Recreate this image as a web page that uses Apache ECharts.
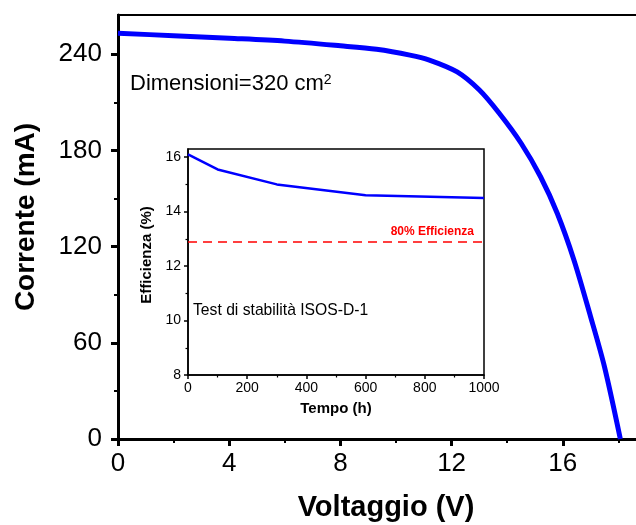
<!DOCTYPE html>
<html>
<head>
<meta charset="utf-8">
<script src="https://cdn.jsdelivr.net/npm/echarts@6/dist/echarts.min.js"></script>
<style>
  html, body { margin: 0; padding: 0; background: #fff; }
  #root { width: 636px; height: 525px; }
</style>
</head>
<body>
<div id="root"></div>
<script>
// main J-V curve
const voltage = [0, 2, 4, 6, 8, 9.3, 10.5, 11.2, 12.2, 13.0, 13.7, 14.5, 15.2, 15.8, 16.4, 17.0, 17.5, 18.07];
const current = [253.1, 251.6, 250.0, 248.2, 245.3, 243.1, 239.5, 236.4, 229.0, 217.7, 203.5, 184.5, 163.6, 140.8, 111.7, 76.3, 45.0, 0];
const currentTicks = [0, 60, 120, 180, 240];
const currentMinor = [30, 90, 150, 210];

// inset: stability test
const tempo = [0, 100, 300, 600, 1000];
const efficienza = [16.1, 15.55, 15.0, 14.6, 14.5];
const effTicks = [8, 10, 12, 14, 16];
const effMinor = [9, 11, 13, 15];
const soglia80 = 12.88;

const FONT = "'Liberation Sans', Arial, sans-serif";
const plain = v => String(v);
const chart = echarts.init(document.getElementById('root'));

chart.setOption({
  animation: false,
  backgroundColor: '#fff',
  textStyle: { fontFamily: FONT },
  grid: [
    { left: 118, top: 15, width: 556, height: 424, show: true, borderColor: '#000', borderWidth: 2, outerBoundsMode: 'none', containLabel: false },
    { left: 188, top: 149, width: 296, height: 226, show: true, borderColor: '#000', borderWidth: 1.5, backgroundColor: '#fff', outerBoundsMode: 'none', containLabel: false }
  ],
  xAxis: [
    {
      gridIndex: 0, type: 'value', min: 0, max: 20, interval: 4,
      name: 'Voltaggio (V)', nameLocation: 'middle', nameGap: 54,
      nameTextStyle: { fontSize: 29, fontWeight: 'bold', color: '#000', fontFamily: FONT, padding: [0, 20, 0, 0] },
      axisLine: { lineStyle: { color: '#000', width: 3 } },
      axisTick: { inside: false, length: 7, lineStyle: { width: 3, color: '#000' } },
      minorTick: { show: true, splitNumber: 2, length: 4, lineStyle: { width: 2, color: '#000' } },
      axisLabel: { fontSize: 26, color: '#000', margin: 12, fontFamily: FONT, formatter: plain },
      splitLine: { show: false }
    },
    {
      gridIndex: 1, type: 'value', min: 0, max: 1000, interval: 200,
      name: 'Tempo (h)', nameLocation: 'middle', nameGap: 26,
      nameTextStyle: { fontSize: 15, fontWeight: 'bold', color: '#000', fontFamily: FONT },
      axisLine: { lineStyle: { color: '#000', width: 1.5 } },
      axisTick: { inside: false, length: 4, lineStyle: { width: 1.5, color: '#000' } },
      minorTick: { show: true, splitNumber: 2, length: 2.5, lineStyle: { width: 1.2, color: '#000' } },
      axisLabel: { fontSize: 14, color: '#000', margin: 6, fontFamily: FONT, formatter: plain },
      splitLine: { show: false }
    }
  ],
  yAxis: [
    {
      gridIndex: 0, type: 'value', min: 0, max: 264.5, position: 'left',
      name: 'Corrente (mA)', nameLocation: 'middle', nameGap: 78,
      nameTextStyle: { fontSize: 28, fontWeight: 'bold', color: '#000', fontFamily: FONT, padding: [0, 0, 0, 20] },
      axisLine: { lineStyle: { color: '#000', width: 3 } },
      axisTick: { inside: false, length: 7, customValues: currentTicks, lineStyle: { width: 3, color: '#000' } },
      axisLabel: { fontSize: 26, color: '#000', margin: 16, customValues: currentTicks, fontFamily: FONT, formatter: plain },
      splitLine: { show: false }
    },
    {
      gridIndex: 0, type: 'value', min: 0, max: 264.5, position: 'left', offset: 0,
      axisLine: { show: false },
      axisTick: { inside: false, length: 4, customValues: currentMinor, lineStyle: { width: 2, color: '#000' } },
      axisLabel: { show: false },
      splitLine: { show: false }
    },
    {
      gridIndex: 1, type: 'value', min: 8, max: 16.3, position: 'left',
      name: 'Efficienza (%)', nameLocation: 'middle', nameGap: 34,
      nameTextStyle: { fontSize: 15, fontWeight: 'bold', color: '#000', fontFamily: FONT, padding: [0, 0, 0, 14] },
      axisLine: { lineStyle: { color: '#000', width: 1.5 } },
      axisTick: { inside: false, length: 4, customValues: effTicks, lineStyle: { width: 1.5, color: '#000' } },
      axisLabel: { fontSize: 14, color: '#000', margin: 7, customValues: effTicks, fontFamily: FONT, formatter: plain },
      splitLine: { show: false }
    },
    {
      gridIndex: 1, type: 'value', min: 8, max: 16.3, position: 'left', offset: 0,
      axisLine: { show: false },
      axisTick: { inside: false, length: 2.5, customValues: effMinor, lineStyle: { width: 1.2, color: '#000' } },
      axisLabel: { show: false },
      splitLine: { show: false }
    }
  ],
  series: [
    {
      type: 'line', xAxisIndex: 0, yAxisIndex: 0,
      data: voltage.map((v, i) => [v, current[i]]),
      smooth: 0.3, showSymbol: false, silent: true,
      lineStyle: { color: '#0000ff', width: 5 },
      z: 3
    },
    {
      type: 'line', xAxisIndex: 1, yAxisIndex: 2,
      data: tempo.map((t, i) => [t, efficienza[i]]),
      showSymbol: false, silent: true,
      lineStyle: { color: '#0000ff', width: 2.5 },
      markLine: {
        silent: true, symbol: 'none',
        lineStyle: { color: '#ff0000', type: [9, 6], width: 1.5 },
        label: {
          show: true, position: 'insideEndTop', formatter: '80% Efficienza',
          color: '#ff0000', fontWeight: 'bold', fontSize: 12, fontFamily: FONT, distance: [10, 4]
        },
        data: [{ yAxis: soglia80 }]
      },
      z: 4
    }
  ],
  graphic: [
    {
      type: 'text', x: 130, y: 84, z: 10,
      style: {
        text: '{a|Dimensioni=320 cm}{s|2}',
        verticalAlign: 'middle',
        rich: {
          a: { fontSize: 22, fontFamily: FONT, fill: '#000' },
          s: { fontSize: 14, fontFamily: FONT, fill: '#000', verticalAlign: 'top' }
        }
      }
    },
    {
      type: 'text', x: 193, y: 311, z: 10,
      style: { text: 'Test di stabilità ISOS-D-1', font: "15.7px 'Liberation Sans', Arial, sans-serif", fill: '#000', verticalAlign: 'middle' }
    }
  ]
});
</script>
</body>
</html>
